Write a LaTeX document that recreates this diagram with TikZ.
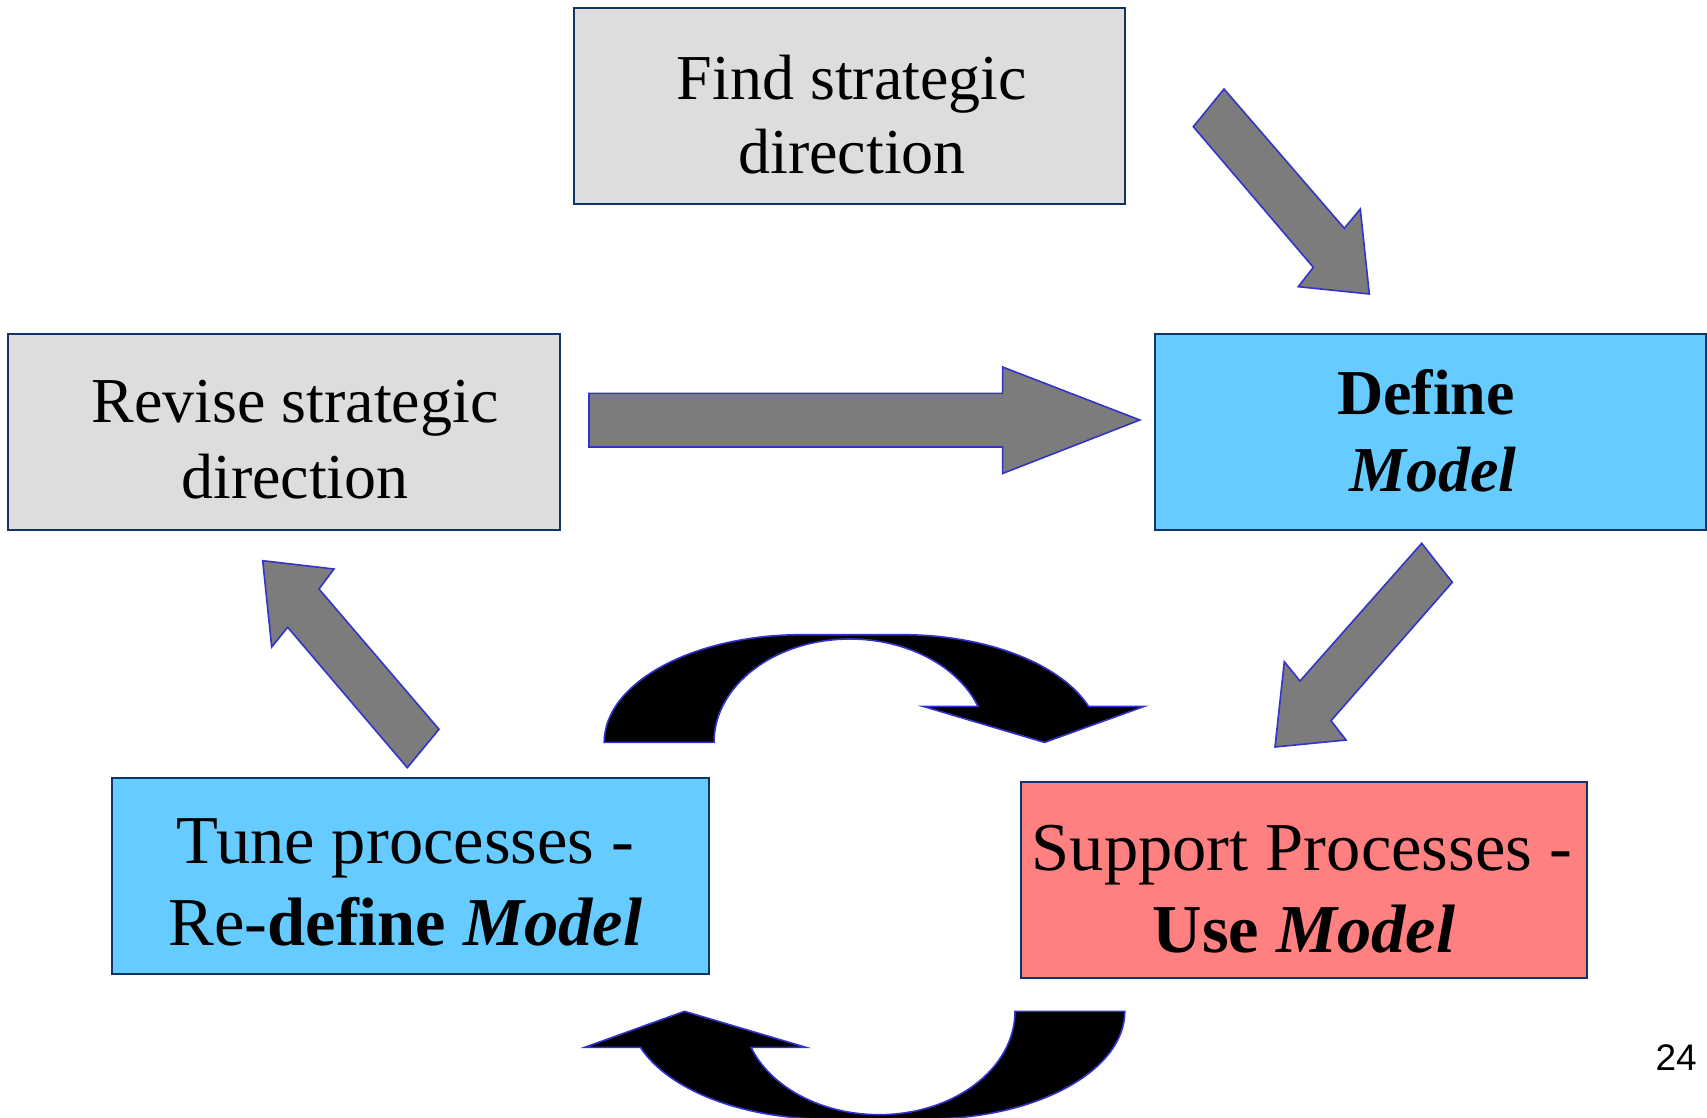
\documentclass[tikz,border=0pt]{standalone}
\usepackage{fontspec}
\setmainfont{Liberation Serif}
\newfontfamily\numfont{Liberation Sans}
\definecolor{boxline}{RGB}{16,52,104}
\definecolor{grayfill}{RGB}{221,221,221}
\definecolor{bluefill}{RGB}{102,204,255}
\definecolor{pinkfill}{RGB}{255,128,128}
\definecolor{arrfill}{RGB}{124,124,124}
\definecolor{arrline}{RGB}{51,51,204}
\newcommand\crvpath{(604.2,742.4) .. controls (604.2,682.9) and (692.8,634.7) .. (802,634.7) -- (902,634.7) .. controls (985.9,634.7) and (1060.6,663.4) .. (1088.6,706.4) -- (1144.2,706.4) -- (1044.5,742.4) -- (923.2,706.4) -- (978,706.4) .. controls (958.2,665.9) and (906.8,639) .. (850,639) .. controls (774.9,639) and (714,685.3) .. (714,742.4) -- cycle}
\begin{document}
\begin{tikzpicture}[x=1pt,y=-1pt,
  boxstyle/.style={draw=boxline, line width=2pt, rectangle, inner sep=0pt, minimum height=196pt},
  txtsmall/.style={anchor=base, inner sep=0pt, font=\fontsize{64}{75}\selectfont},
  txtbig/.style={anchor=base, inner sep=0pt, font=\fontsize{68.5}{80}\selectfont},
  blockarrow/.style={fill=arrfill, draw=arrline, line width=1.6pt, line join=miter},
  curvarrow/.style={fill=black, draw=arrline, line width=1.6pt, line join=miter}]
\useasboundingbox (0,0) rectangle (1707,1118);
% boxes
\node[boxstyle, fill=grayfill, minimum width=551pt] (find) at (849.5,105.6) {};
\node[boxstyle, fill=grayfill, minimum width=552pt] (revise) at (283.6,432.2) {};
\node[boxstyle, fill=bluefill, minimum width=551pt] (define) at (1430.5,432.2) {};
\node[boxstyle, fill=bluefill, minimum width=596.6pt] (tune) at (410.4,876.3) {};
\node[boxstyle, fill=pinkfill, minimum width=566pt] (support) at (1304.2,879.6) {};
% texts
\node[txtsmall] (find1) at (852,100) {Find strategic};
\node[txtsmall] (find2) at (852,174) {direction};
\node[txtsmall] (rev1) at (295,422.4) {Revise strategic};
\node[txtsmall] (rev2) at (295,498.6) {direction};
\node[txtsmall] (def1) at (1426,414.8) {\textbf{Define}};
\node[txtsmall] (def2) at (1433,491) {\textbf{\textit{Model}}};
\node[txtbig] (tune1) at (405.5,863.3) {Tune processes -};
\node[txtbig] (tune2) at (405.5,945) {Re-\textbf{define} \textbf{\textit{Model}}};
\node[txtbig] (sup1) at (1302,870.9) {Support Processes -};
\node[txtbig] (sup2) at (1304,952.5) {\textbf{Use} \textbf{\textit{Model}}};
% block arrows
\draw[blockarrow] (589,393.4) -- (1002.6,393.4) -- (1002.6,367) -- (1139.8,420) -- (1002.6,473.5) -- (1002.6,447) -- (589,447) -- cycle;
\draw[blockarrow] (1224,89) -- (1193.3,126.7) -- (1313.3,267.3) -- (1298.3,286.7) -- (1369.3,294) -- (1360.3,209) -- (1344.3,228.3) -- cycle;
\draw[blockarrow] (1421.7,543.3) -- (1452.3,582.3) -- (1331,720.7) -- (1346,740) -- (1275,747) -- (1284.3,661.7) -- (1300,681) -- cycle;
\draw[blockarrow] (262.7,560.7) -- (334,569) -- (319,589) -- (439,729.3) -- (407.3,767.7) -- (287.7,627.3) -- (271.7,647) -- cycle;
% curved arrows
\draw[curvarrow] \crvpath;
\draw[curvarrow, rotate around={180:(864.5,876.85)}] \crvpath;
% page number
\node[anchor=base east, inner sep=0pt, font=\numfont\fontsize{37}{44}\selectfont] (pagenum) at (1697,1070) {24};
\end{tikzpicture}
\end{document}
